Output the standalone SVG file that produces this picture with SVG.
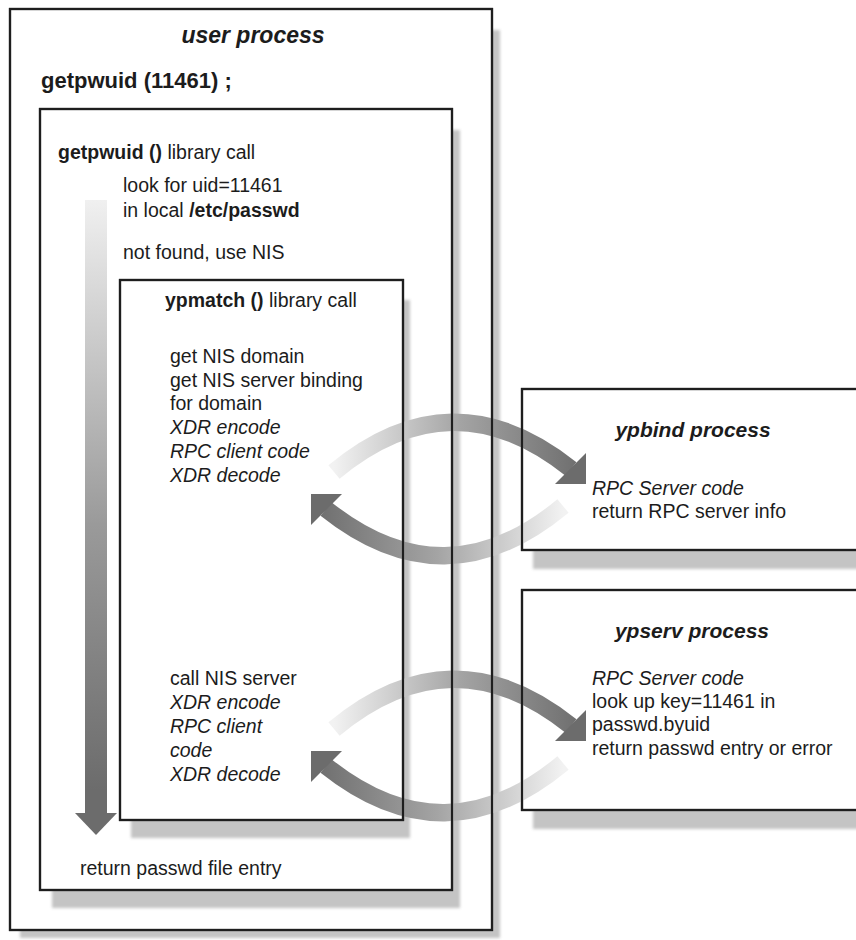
<svg xmlns="http://www.w3.org/2000/svg" xmlns:xlink="http://www.w3.org/1999/xlink" width="856" height="940" viewBox="0 0 856 940">
  <defs>
    <style>
      text { font-family: "Liberation Sans", Arial, sans-serif; font-size: 19.5px; fill: #1c1c1c; }
      .b { font-weight: bold; }
      .i { font-style: italic; }
      .title { font-weight: bold; font-style: italic; }
      .frame { fill: none; stroke: #1e1e1e; stroke-width: 2.2; }
      .panel { fill: #ffffff; }
      .shadow { fill: #c4c4c4; filter: url(#soft); }
    </style>
    <filter id="soft" x="-5%" y="-5%" width="110%" height="110%">
      <feGaussianBlur stdDeviation="1.6"/>
    </filter>
    <!-- shaft shading for the downward flow arrow -->
    <linearGradient id="flowFade" gradientUnits="userSpaceOnUse" x1="0" y1="200" x2="0" y2="790">
      <stop offset="0" stop-color="#f0f0f0"/>
      <stop offset="0.55" stop-color="#9a9a9a"/>
      <stop offset="1" stop-color="#6c6c6c"/>
    </linearGradient>
    <!-- shading for the curved request/reply arrows -->
    <linearGradient id="arcFade" gradientUnits="userSpaceOnUse" x1="334" y1="0" x2="585" y2="0">
      <stop offset="0" stop-color="#f2f2f2"/>
      <stop offset="0.5" stop-color="#a4a4a4"/>
      <stop offset="1" stop-color="#6c6c6c"/>
    </linearGradient>
    <!-- one curved arrow: from the client side up and over to the server -->
    <g id="arc">
      <path d="M334,472 Q452,374 571,469" fill="none" stroke="url(#arcFade)" stroke-width="17.5"/>
      <polygon points="555,484 586,453 586,484" fill="#6c6c6c"/>
    </g>
    <!-- request and reply arrows for one client/server exchange -->
    <g id="exchange">
      <use xlink:href="#arc"/>
      <use xlink:href="#arc" transform="rotate(180 448.5 489)"/>
    </g>
  </defs>

  <rect width="856" height="940" fill="#ffffff"/>

  <!-- user process -->
  <g id="user-process">
    <rect class="shadow" x="20" y="30" width="480" height="908"/>
    <rect class="panel" x="10" y="9" width="482" height="921"/>
    <rect id="user-frame" class="frame" x="10" y="9" width="482" height="921"/>
    <text class="title" x="253" y="43" text-anchor="middle" style="font-size:23px">user process</text>
    <text class="b" x="41" y="88" style="font-size:22px">getpwuid (11461) ;</text>
  </g>

  <!-- getpwuid() library call -->
  <g id="getpwuid-call">
    <rect class="shadow" x="52" y="130" width="408" height="778"/>
    <rect class="panel" x="40" y="109" width="412" height="781"/>
    <rect id="getpwuid-frame" class="frame" x="40" y="109" width="412" height="781"/>
    <text x="58" y="159"><tspan class="b">getpwuid ()</tspan> library call</text>
    <text x="123" y="192">look for uid=11461</text>
    <text x="123" y="217">in local <tspan class="b">/etc/passwd</tspan></text>
    <text x="123" y="259">not found, use NIS</text>
    <text x="80" y="875">return passwd file entry</text>
  </g>

  <!-- ypmatch() library call -->
  <g id="ypmatch-call">
    <rect class="shadow" x="131" y="300" width="279" height="538"/>
    <rect class="panel" x="120" y="280" width="283" height="540"/>
    <rect id="ypmatch-frame" class="frame" x="120" y="280" width="283" height="540"/>
    <text x="165" y="307"><tspan class="b">ypmatch ()</tspan> library call</text>
    <text x="170" y="363">get NIS domain</text>
    <text x="170" y="387">get NIS server binding</text>
    <text x="170" y="410">for domain</text>
    <text class="i" x="170" y="434">XDR encode</text>
    <text class="i" x="170" y="458">RPC client code</text>
    <text class="i" x="170" y="482">XDR decode</text>
    <text x="170" y="685">call NIS server</text>
    <text class="i" x="170" y="709">XDR encode</text>
    <text class="i" x="170" y="733">RPC client</text>
    <text class="i" x="170" y="757">code</text>
    <text class="i" x="170" y="781">XDR decode</text>
  </g>

  <!-- ypbind process -->
  <g id="ypbind-process">
    <rect class="shadow" x="533" y="409" width="340" height="160"/>
    <rect class="panel" x="522" y="389" width="350" height="161"/>
    <rect id="ypbind-frame" class="frame" x="522" y="389" width="350" height="161"/>
    <text class="title" x="693" y="437" text-anchor="middle" style="font-size:21px">ypbind process</text>
    <text class="i" x="592" y="495">RPC Server code</text>
    <text x="592" y="518">return RPC server info</text>
  </g>

  <!-- ypserv process -->
  <g id="ypserv-process">
    <rect class="shadow" x="533" y="610" width="340" height="219"/>
    <rect class="panel" x="522" y="590" width="350" height="220"/>
    <rect id="ypserv-frame" class="frame" x="522" y="590" width="350" height="220"/>
    <text class="title" x="692" y="638" text-anchor="middle" style="font-size:21px">ypserv process</text>
    <text class="i" x="592" y="685">RPC Server code</text>
    <text x="592" y="708">look up key=11461 in</text>
    <text x="592" y="731">passwd.byuid</text>
    <text x="592" y="755">return passwd entry or error</text>
  </g>

  <!-- connectors -->
  <g id="connectors">
    <!-- control flow through getpwuid() -->
    <g id="flow">
      <rect x="85" y="200" width="22" height="613" fill="url(#flowFade)"/>
      <polygon points="75,813 117,813 96,835" fill="#6c6c6c"/>
    </g>
    <!-- ypmatch() <-> ypbind -->
    <use id="bind-exchange" xlink:href="#exchange"/>
    <!-- ypmatch() <-> ypserv -->
    <use id="serv-exchange" xlink:href="#exchange" transform="translate(0 257)"/>
  </g>

  <!-- box edges stay on top where the arrows pass through them -->
  <g id="edges">
    <use xlink:href="#ypmatch-frame"/>
    <use xlink:href="#getpwuid-frame"/>
    <use xlink:href="#user-frame"/>
    <use xlink:href="#ypbind-frame"/>
    <use xlink:href="#ypserv-frame"/>
  </g>
</svg>
